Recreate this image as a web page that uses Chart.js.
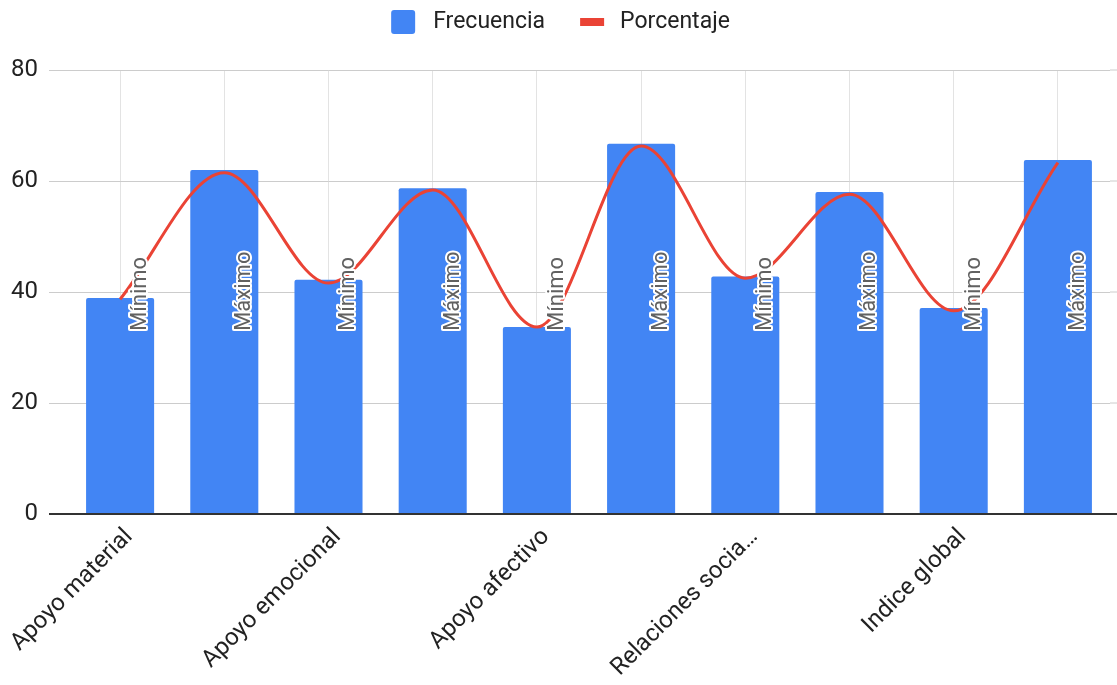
<!DOCTYPE html>
<html lang="es">
<head>
<meta charset="utf-8">
<title>Frecuencia y porcentaje</title>
<script src="https://cdn.jsdelivr.net/npm/chart.js@4.4.1/dist/chart.umd.min.js"></script>
<style>
    html, body { margin: 0; padding: 0; background: #fff; }
    #wrap { position: relative; width: 1117px; height: 685px; }
</style>
</head>
<body>
<div id="wrap"><canvas id="grafico"></canvas></div>
<script>
// categorias (cada dimension aparece dos veces: minimo y maximo)
const categorias = [
    'Apoyo material', 'Apoyo material',
    'Apoyo emocional', 'Apoyo emocional',
    'Apoyo afectivo', 'Apoyo afectivo',
    'Relaciones sociales de ocio y distracción', 'Relaciones sociales de ocio y distracción',
    'Indice global', 'Indice global'
];
const tipos = ['Mínimo', 'Máximo', 'Mínimo', 'Máximo', 'Mínimo', 'Máximo', 'Mínimo', 'Máximo', 'Mínimo', 'Máximo'];
const frecuencia = [38.9, 62.0, 42.2, 58.7, 33.7, 66.7, 42.8, 58.0, 37.1, 63.8];
const porcentaje = [38.7, 61.5, 41.6, 58.4, 33.7, 66.3, 42.5, 57.6, 36.6, 63.3];
const ticksY = [0, 20, 40, 60, 80];

const AZUL = '#4285F4';
const ROJO = '#EA4335';
const FUENTE = 'Roboto, "Liberation Sans", Arial, sans-serif';

// leyenda dibujada a mano arriba, centrada
const leyenda = {
    id: 'leyenda',
    afterDraw(chart) {
        const ctx = chart.ctx;
        ctx.save();
        ctx.font = '23px ' + FUENTE;
        ctx.textBaseline = 'middle';
        ctx.fillStyle = '#222';
        const items = [
            { texto: chart.data.datasets[1].label, color: AZUL, alto: 24, sep: 18 },
            { texto: chart.data.datasets[0].label, color: ROJO, alto: 8, sep: 16 }
        ];
        const anchos = items.map(it => 24 + it.sep + ctx.measureText(it.texto).width);
        const total = anchos[0] + 35 + anchos[1];
        let x = chart.width / 2 - total / 2 + 2;
        const yc = 22;
        items.forEach((it, i) => {
            ctx.fillStyle = it.color;
            ctx.beginPath();
            if (ctx.roundRect) ctx.roundRect(x, yc - it.alto / 2, 24, it.alto, it.alto > 10 ? 3 : 0);
            else ctx.rect(x, yc - it.alto / 2, 24, it.alto);
            ctx.fill();
            ctx.fillStyle = '#222';
            ctx.fillText(it.texto, x + 24 + it.sep, yc);
            x += anchos[i] + 35;
        });
        ctx.restore();
    }
};

// las lineas horizontales siguen hasta el borde derecho
const rejillaDerecha = {
    id: 'rejillaDerecha',
    beforeDatasetsDraw(chart) {
        const ctx = chart.ctx;
        const y = chart.scales.y;
        const area = chart.chartArea;
        ctx.save();
        y.ticks.forEach(t => {
            const py = y.getPixelForValue(t.value);
            ctx.strokeStyle = t.value === 0 ? '#333' : '#ccc';
            ctx.lineWidth = t.value === 0 ? 2 : 1;
            ctx.beginPath();
            ctx.moveTo(area.right, py);
            ctx.lineTo(chart.width, py);
            ctx.stroke();
        });
        ctx.restore();
    }
};

// etiquetas Minimo / Maximo en vertical sobre cada barra
const etiquetasBarras = {
    id: 'etiquetasBarras',
    afterDatasetsDraw(chart) {
        const ctx = chart.ctx;
        const meta = chart.getDatasetMeta(1);
        const py = chart.scales.y.getPixelForValue(33);
        ctx.save();
        ctx.font = '22px ' + FUENTE;
        ctx.textAlign = 'left';
        ctx.textBaseline = 'middle';
        ctx.lineJoin = 'round';
        meta.data.forEach((barra, i) => {
            ctx.save();
            ctx.translate(barra.x + barra.width * 0.3, py);
            ctx.rotate(-Math.PI / 2);
            ctx.strokeStyle = '#fff';
            ctx.lineWidth = 4;
            ctx.strokeText(tipos[i], 0, 0);
            ctx.fillStyle = '#616161';
            ctx.fillText(tipos[i], 0, 0);
            ctx.restore();
        });
        ctx.restore();
    }
};

const ctx = document.getElementById('grafico').getContext('2d');
const grafico = new Chart(ctx, {
    data: {
        labels: categorias,
        datasets: [
            {
                type: 'line',
                label: 'Porcentaje',
                data: porcentaje,
                borderColor: ROJO,
                borderWidth: 3,
                pointRadius: 0,
                cubicInterpolationMode: 'monotone',
                fill: false,
                order: 0
            },
            {
                type: 'bar',
                label: 'Frecuencia',
                data: frecuencia,
                backgroundColor: AZUL,
                borderRadius: { topLeft: 2, topRight: 2 },
                borderSkipped: 'start',
                categoryPercentage: 1,
                barPercentage: 0.653,
                order: 1
            }
        ]
    },
    options: {
        responsive: true,
        maintainAspectRatio: false,
        animation: false,
        layout: { padding: { top: 70, right: 7, bottom: 0, left: 0 } },
        plugins: {
            legend: { display: false },
            tooltip: { enabled: false }
        },
        scales: {
            x: {
                grid: { offset: false, color: '#e3e3e3', drawTicks: false },
                border: { display: false },
                afterFit(s) {
                    s.height = 171;
                    s.paddingLeft = 0;
                    s.paddingRight = 0;
                },
                ticks: {
                    autoSkip: false,
                    minRotation: 45,
                    maxRotation: 45,
                    padding: 9,
                    labelOffset: 9,
                    color: '#222',
                    font: { family: FUENTE, size: 24 },
                    callback(v, i) {
                        if (i % 2 !== 0) return '';
                        const t = categorias[i];
                        return t.length > 16 ? t.slice(0, 16) + '…' : t;
                    }
                }
            },
            y: {
                min: ticksY[0],
                max: ticksY[ticksY.length - 1],
                afterFit(s) { s.width = 68; },
                afterBuildTicks(s) { s.ticks = ticksY.map(v => ({ value: v })); },
                border: { display: false },
                grid: {
                    color: c => c.tick.value === 0 ? '#333' : '#ccc',
                    tickColor: c => c.tick.value === 0 ? '#333' : '#ccc',
                    lineWidth: c => c.tick.value === 0 ? 2 : 1,
                    tickLength: 19
                },
                ticks: {
                    padding: 11,
                    color: '#222',
                    font: { family: FUENTE, size: 24 }
                }
            }
        }
    },
    plugins: [leyenda, rejillaDerecha, etiquetasBarras]
});
</script>
</body>
</html>
